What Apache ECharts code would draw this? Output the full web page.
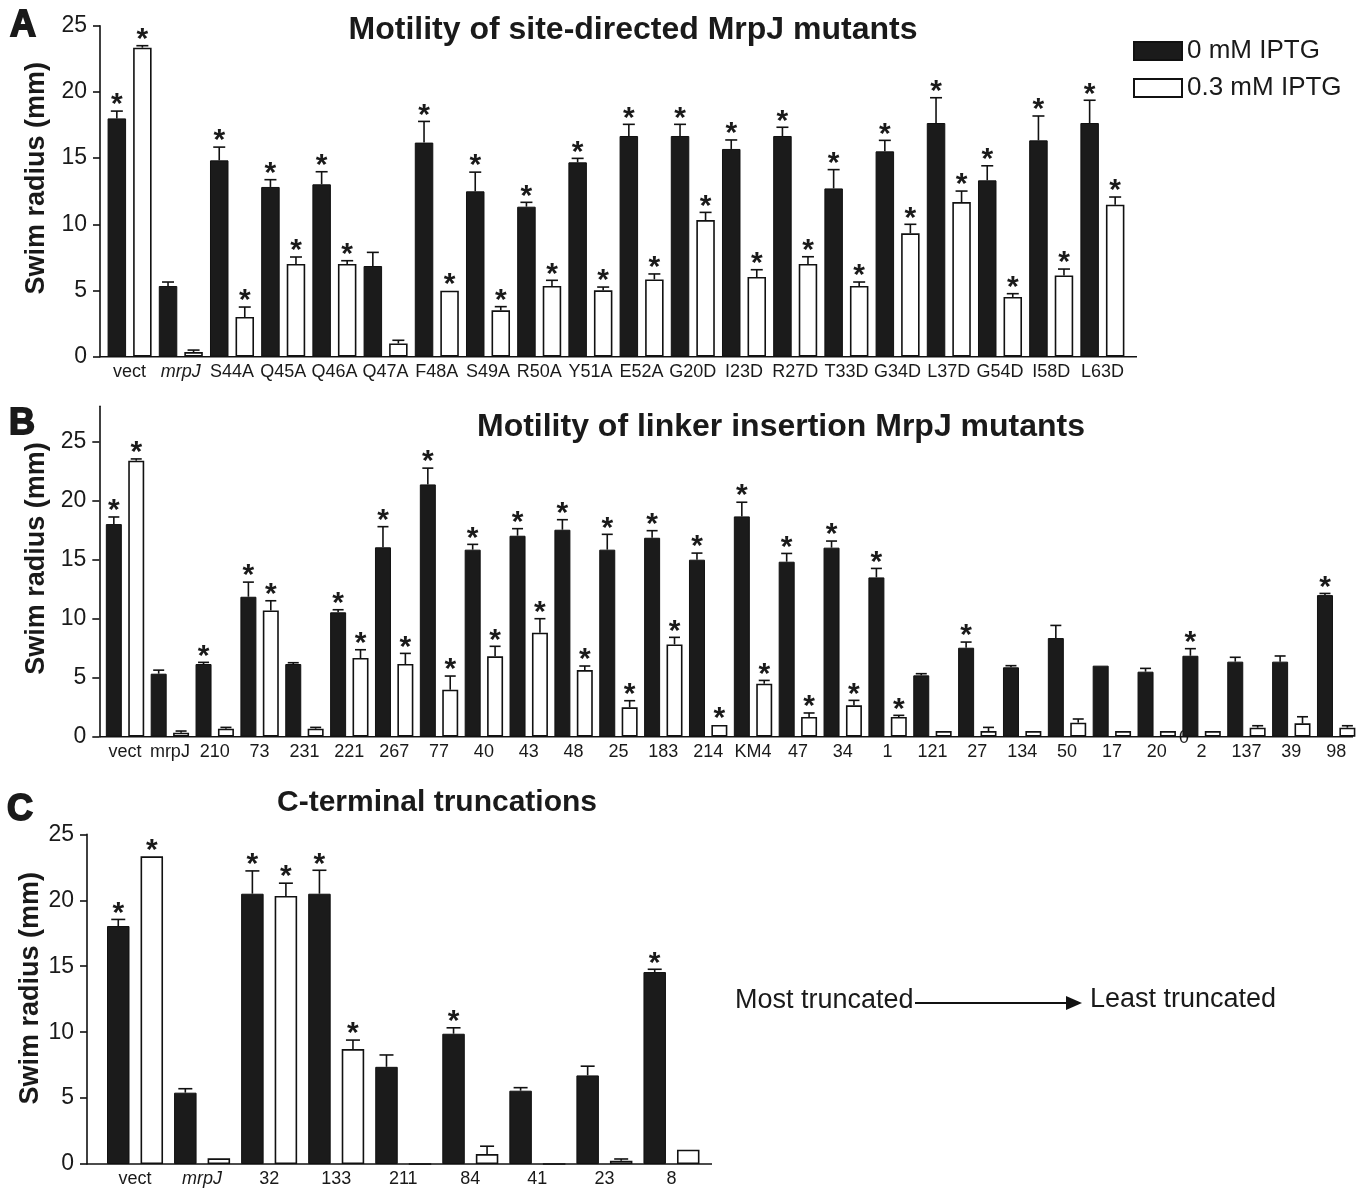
<!DOCTYPE html>
<html>
<head>
<meta charset="utf-8">
<script src="https://cdn.jsdelivr.net/npm/echarts@6/dist/echarts.min.js"></script>
<style>
html,body{margin:0;padding:0;background:#fff;}
#chart{width:1366px;height:1188px;}
</style>
</head>
<body>
<div id="chart"></div>
<script>
// ---------------- DATA ----------------
const seriesNames = ['0 mM IPTG', '0.3 mM IPTG'];
const yTicks = [0, 5, 10, 15, 20, 25];

// Panel A
const aCats = ['vect','mrpJ','S44A','Q45A','Q46A','Q47A','F48A','S49A','R50A','Y51A','E52A','G20D','I23D','R27D','T33D','G34D','L37D','G54D','I58D','L63D'];
const aBlack    = [18.0, 5.34, 14.83, 12.82, 13.02, 6.85, 16.17, 12.49, 11.33, 14.68, 16.67, 16.67, 15.69, 16.67, 12.71, 15.51, 17.65, 13.32, 16.34, 17.65];
const aBlackErr = [0.55, 0.3, 1.0, 0.55, 0.95, 1.03, 1.6, 1.45, 0.33, 0.3, 0.88, 0.88, 0.68, 0.66, 1.42, 0.83, 1.91, 1.1, 1.84, 1.72];
const aBlackSig = [1,0,1,1,1,0,1,1,1,1,1,1,1,1,1,1,1,1,1,1];
const aWhite    = [23.34, 0.35, 3.0, 7.0, 7.0, 1.0, 4.98, 3.5, 5.34, 5.01, 5.84, 10.32, 6.02, 7.0, 5.34, 9.32, 11.68, 4.51, 6.14, 11.48];
const aWhiteErr = [0.15, 0.15, 0.75, 0.53, 0.25, 0.24, 0, 0.28, 0.43, 0.25, 0.41, 0.58, 0.55, 0.55, 0.3, 0.68, 0.83, 0.25, 0.48, 0.58];
const aWhiteSig = [1,0,1,1,1,0,1,1,1,1,1,1,1,1,1,1,1,1,1,1];

// Panel B
const bCats = ['vect','mrpJ','210','73','231','221','267','77','40','43','48','25','183','214','KM4','47','34','1','121','27','134','50','17','20','2','137','39','98'];
const bBlack    = [18.02, 5.34, 6.16, 11.86, 6.16, 10.54, 16.05, 21.38, 15.85, 17.03, 17.54, 15.85, 16.86, 15.0, 18.67, 14.83, 16.02, 13.5, 5.2, 7.54, 5.88, 8.36, 6.02, 5.51, 6.86, 6.36, 6.36, 12.0];
const bBlackErr = [0.6, 0.3, 0.14, 1.24, 0.11, 0.22, 1.75, 1.38, 0.45, 0.6, 0.85, 1.3, 0.6, 0.56, 1.2, 0.7, 0.56, 0.76, 0.14, 0.48, 0.14, 1.07, 0, 0.28, 0.6, 0.37, 0.48, 0.14];
const bBlackSig = [1,0,1,1,0,1,1,1,1,1,1,1,1,1,1,1,1,1,0,1,0,0,0,0,1,0,0,1];
const bWhite    = [23.39, 0.34, 0.68, 10.7, 0.68, 6.67, 6.16, 3.98, 6.81, 8.81, 5.65, 2.49, 7.82, 0.99, 4.49, 1.67, 2.66, 1.67, 0.48, 0.48, 0.48, 1.19, 0.48, 0.48, 0.48, 0.76, 1.13, 0.76];
const bWhiteErr = [0.15, 0.14, 0.11, 0.82, 0.11, 0.7, 0.9, 1.16, 0.85, 1.19, 0.34, 0.56, 0.6, 0, 0.28, 0.34, 0.42, 0.14, 0, 0.31, 0, 0.31, 0, 0, 0, 0.17, 0.56, 0.17];
const bWhiteSig = [1,0,0,1,0,1,1,1,1,1,1,1,1,1,1,1,1,1,0,0,0,0,0,0,0,0,0,0];

// Panel C
const cCats = ['vect','mrpJ','32','133','211','84','41','23','8'];
const cBlack    = [18.05, 5.41, 20.5, 20.5, 7.37, 9.88, 5.56, 6.72, 14.56];
const cBlackErr = [0.5, 0.3, 1.73, 1.78, 0.9, 0.45, 0.23, 0.7, 0.21];
const cBlackSig = [1,0,1,1,0,1,0,0,1];
const cWhite    = [23.34, 0.43, 20.33, 8.72, 0, 0.75, 0, 0.25, 1.08];
const cWhiteErr = [0, 0, 0.97, 0.68, 0, 0.6, 0, 0.13, 0];
const cWhiteSig = [1,0,1,1,0,0,0,0,0];

// ---------------- LAYOUT ----------------
const FONT = "'Liberation Sans', Arial, Helvetica, sans-serif";
const INK = '#1a1a1a';
const panels = [
  { cats: aCats, black: aBlack, blackErr: aBlackErr, blackSig: aBlackSig, white: aWhite, whiteErr: aWhiteErr, whiteSig: aWhiteSig,
    left: 104, width: 1024, top: 25.7, height: 331, max: 25, axisX: 100, endX: 1137,
    bw: 18.5, gap: 0.38, cap: 6, nameGap: 43, namePad: 26, italicMrpJ: true, labelSize: 18 },
  { cats: bCats, black: bBlack, blackErr: bBlackErr, blackSig: bBlackSig, white: bWhite, whiteErr: bWhiteErr, whiteSig: bWhiteSig,
    left: 102.6, width: 1256, top: 406.3, height: 330.4, max: 28, axisX: 99.3, endX: 1353,
    bw: 16, gap: 0.4, cap: 5.5, nameGap: 44, namePad: 26, italicMrpJ: false, labelSize: 18 },
  { cats: cCats, black: cBlack, blackErr: cBlackErr, blackSig: cBlackSig, white: cWhite, whiteErr: cWhiteErr, whiteSig: cWhiteSig,
    left: 101.5, width: 603.5, top: 834.4, height: 332.3, max: 25, axisX: 87, endX: 712,
    bw: 22.5, gap: 0.49, cap: 7, nameGap: 34, namePad: 22, italicMrpJ: true, labelSize: 18 }
];

const grids = [], xAxes = [], yAxes = [], series = [];

function errSeries(p, idx, vals, errs, sigs, sign) {
  const off = sign * (p.bw + p.bw * p.gap) / 2;
  return {
    type: 'custom', xAxisIndex: idx, yAxisIndex: idx, silent: true, z: 5,
    data: vals.map((v, i) => [i, v, errs[i], sigs[i]]),
    renderItem: function (params, api) {
      const i = api.value(0), v = api.value(1), e = api.value(2), s = api.value(3);
      const base = api.coord([i, v]);
      const x = base[0] + off;
      const top = api.coord([i, v + e])[1];
      const ch = [];
      const st = { stroke: '#111', lineWidth: 1.6 };
      if (e > 0) {
        ch.push({ type: 'line', shape: { x1: x, y1: base[1], x2: x, y2: top }, style: st });
        ch.push({ type: 'line', shape: { x1: x - p.cap, y1: top, x2: x + p.cap, y2: top }, style: st });
      }
      if (s) {
        ch.push({ type: 'text', style: { text: '*', x: x, y: top - 6, align: 'center', verticalAlign: 'middle',
          font: 'bold 30px ' + FONT, fill: INK } });
      }
      return { type: 'group', children: ch };
    }
  };
}

panels.forEach((p, idx) => {
  grids.push({ left: p.left, top: p.top, width: p.width, height: p.height, containLabel: false });
  xAxes.push({
    type: 'category', gridIndex: idx, data: p.cats,
    axisLine: { show: false }, axisTick: { show: false },
    axisLabel: {
      interval: 0, fontSize: p.labelSize, color: INK, fontFamily: FONT, margin: 6,
      formatter: v => (p.italicMrpJ && v === 'mrpJ') ? '{it|mrpJ}' : v,
      rich: { it: { fontStyle: 'italic', fontSize: p.labelSize, color: INK, fontFamily: FONT } }
    }
  });
  yAxes.push({
    type: 'value', gridIndex: idx, min: 0, max: p.max, interval: 5,
    offset: p.left - p.axisX,
    name: 'Swim radius (mm)', nameLocation: 'middle', nameGap: p.nameGap,
    nameTextStyle: { fontSize: 27, fontWeight: 'bold', color: INK, fontFamily: FONT, padding: [0, 0, 0, p.namePad] },
    axisLine: { show: true, lineStyle: { color: '#111', width: 1.6 } },
    axisTick: { show: true, length: 7, lineStyle: { color: '#111', width: 1.6 }, customValues: yTicks },
    axisLabel: { fontSize: 23, color: INK, fontFamily: FONT, margin: 13, customValues: yTicks },
    splitLine: { show: false }
  });
  series.push({
    name: seriesNames[0], type: 'bar', xAxisIndex: idx, yAxisIndex: idx,
    data: p.black, barWidth: p.bw, barGap: (p.gap * 100) + '%',
    itemStyle: { color: '#1b1b1b', borderColor: '#111', borderWidth: 1 }, silent: true
  });
  series.push({
    name: seriesNames[1], type: 'bar', xAxisIndex: idx, yAxisIndex: idx,
    data: p.white, barWidth: p.bw, barGap: (p.gap * 100) + '%',
    itemStyle: { color: '#ffffff', borderColor: '#111', borderWidth: 1.6 }, silent: true
  });
  series.push(errSeries(p, idx, p.black, p.blackErr, p.blackSig, -1));
  series.push(errSeries(p, idx, p.white, p.whiteErr, p.whiteSig, 1));
});

const chart = echarts.init(document.getElementById('chart'), null, { renderer: 'canvas' });
chart.setOption({
  animation: false,
  backgroundColor: '#fff',
  textStyle: { fontFamily: FONT },
  grid: grids, xAxis: xAxes, yAxis: yAxes, series: series,
  legend: {
    data: seriesNames, orient: 'vertical', left: 1128, top: 33, itemWidth: 48, itemHeight: 18, itemGap: 11,
    icon: 'rect', selectedMode: false,
    textStyle: { fontSize: 26, color: INK, fontFamily: FONT }
  }
});

// Decorations: baselines, titles, panel letters, annotation
const gfx = [];
panels.forEach((p, idx) => {
  const y0 = chart.convertToPixel({ yAxisIndex: idx }, 0);
  gfx.push({ type: 'line', shape: { x1: p.axisX, y1: y0, x2: p.endX, y2: y0 }, style: { stroke: '#111', lineWidth: 1.6 }, z: 10 });
});
// stray "0" glyph visible under the axis of panel B (category "2")
const yB0 = chart.convertToPixel({ yAxisIndex: 1 }, 0);
gfx.push({ type: 'text', z: -1, style: { text: '0', x: 1184, y: yB0 + 1, align: 'center', verticalAlign: 'middle', font: '18px ' + FONT, fill: INK } });

const titleFont = 'bold 32px ' + FONT;
const letterFont = 'bold 36px ' + FONT;
gfx.push({ type: 'text', style: { text: 'A', x: 10, y: 26, verticalAlign: 'middle', font: letterFont, fill: INK, stroke: INK, lineWidth: 1.8 } });
gfx.push({ type: 'text', style: { text: 'Motility of site-directed MrpJ mutants', x: 633, y: 30, align: 'center', verticalAlign: 'middle', font: titleFont, fill: INK } });
gfx.push({ type: 'text', style: { text: 'B', x: 9, y: 424, verticalAlign: 'middle', font: letterFont, fill: INK, stroke: INK, lineWidth: 1.8 } });
gfx.push({ type: 'text', style: { text: 'Motility of linker insertion MrpJ mutants', x: 781, y: 427, align: 'center', verticalAlign: 'middle', font: titleFont, fill: INK } });
gfx.push({ type: 'text', style: { text: 'C', x: 7, y: 810, verticalAlign: 'middle', font: letterFont, fill: INK, stroke: INK, lineWidth: 1.8 } });
gfx.push({ type: 'text', style: { text: 'C-terminal truncations', x: 437, y: 803, align: 'center', verticalAlign: 'middle', font: 'bold 30px ' + FONT, fill: INK } });
gfx.push({ type: 'text', style: { text: 'Most truncated', x: 735, y: 1001, verticalAlign: 'middle', font: '27px ' + FONT, fill: INK } });
gfx.push({ type: 'line', shape: { x1: 915, y1: 1003, x2: 1068, y2: 1003 }, style: { stroke: '#111', lineWidth: 2 } });
gfx.push({ type: 'polygon', shape: { points: [[1066, 996], [1082, 1003], [1066, 1010]] }, style: { fill: '#111' } });
gfx.push({ type: 'text', style: { text: 'Least truncated', x: 1090, y: 1000, verticalAlign: 'middle', font: '27px ' + FONT, fill: INK } });

chart.setOption({ graphic: { elements: gfx } });
</script>
</body>
</html>
